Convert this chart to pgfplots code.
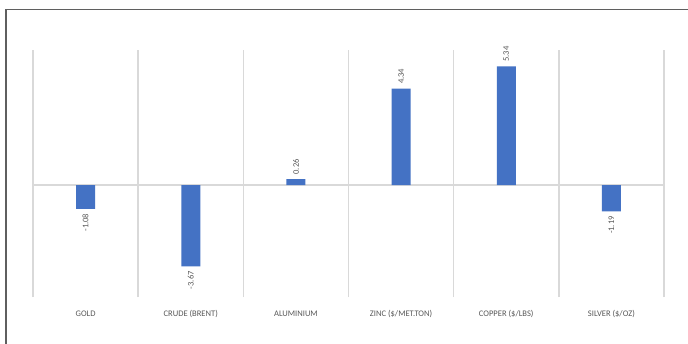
\documentclass[border=0pt]{standalone}
\usepackage{fontspec}
\setmainfont{Carlito}
\usepackage{pgfplots}
\pgfplotsset{compat=1.18}
\definecolor{barblue}{HTML}{4472C4}
\definecolor{gridgray}{HTML}{D9D9D9}
\definecolor{labelgray}{HTML}{595959}
\definecolor{framegray}{HTML}{5F5F5F}
\begin{document}
\begin{tikzpicture}
\useasboundingbox (0pt,0pt) rectangle (516pt,-257.25pt);
\fill[white] (0pt,0pt) rectangle (516pt,-257.25pt);
\draw[framegray, line width=1.2pt] (4.6pt,-258pt) -- (4.6pt,-7.1pt) -- (517pt,-7.1pt);
\begin{axis}[
  at={(24.75pt,-37.5pt)}, anchor=north west,
  scale only axis, width=473.25pt, height=185.25pt,
  xmin=-0.5, xmax=5.5, ymin=-5.045, ymax=6.081,
  axis line style={draw=none},
  tick style={draw=none},
  xtick={0,1,2,3,4,5},
  xticklabels={GOLD, CRUDE (BRENT), ALUMINIUM, ZINC (\$/MET.TON), COPPER (\$/LBS), SILVER (\$/OZ)},
  xticklabel style={anchor=base, yshift=-10.3pt, font=\fontsize{6.4}{7.7}\selectfont, text=labelgray},
  minor xtick={-0.5,0.5,1.5,2.5,3.5,4.5,5.5},
  xminorgrids,
  minor grid style={draw=gridgray, line width=1.1pt},
  ytick=\empty,
  extra y ticks={0}, extra y tick labels={},
  extra y tick style={grid=major, major grid style={draw=gridgray, line width=1.1pt}},
  ybar, bar width=14.25pt, bar shift=0pt,
  /pgf/number format/assume math mode=true,
  nodes near coords={\pgfmathprintnumber[fixed, precision=2, fixed zerofill]{\pgfplotspointmeta}},
  nodes near coords style={rotate=90, font=\fontsize{6.4}{7.7}\selectfont, text=labelgray, inner sep=3.4pt},
  clip=false,
]
\addplot[fill=barblue, draw=none, nodes near coords style={anchor=east}] coordinates {(0,-1.08) (1,-3.67) (5,-1.19)};
\addplot[fill=barblue, draw=none, nodes near coords style={anchor=west}] coordinates {(2,0.26) (3,4.34) (4,5.34)};
\end{axis}
\end{tikzpicture}
\end{document}
